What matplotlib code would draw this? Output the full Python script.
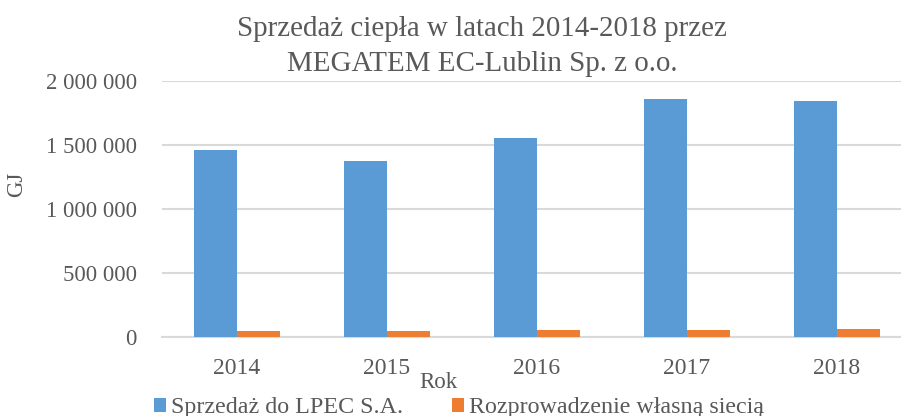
import matplotlib
matplotlib.use("Agg")
import matplotlib.pyplot as plt
import numpy as np
from matplotlib.ticker import FuncFormatter

plt.rcParams['font.family'] = ['Liberation Serif', 'DejaVu Serif']

years = ['2014', '2015', '2016', '2017', '2018']
lpec = [1463000, 1373000, 1552000, 1857000, 1846000]
own_network = [47000, 46000, 52000, 57000, 60000]
series_names = ['Sprzedaż do LPEC S.A.', 'Rozprowadzenie własną siecią']
title_lines = ['Sprzedaż ciepła w latach 2014-2018 przez', 'MEGATEM EC-Lublin Sp. z o.o.']

fig = plt.figure(figsize=(9.01, 4.16), dpi=100)
ax = fig.add_axes([162/901, 1-337/416, 750/901, 256/416])

x = np.arange(len(years))
w = 0.287
b1 = ax.bar(x - w/2, lpec, w, color='#5B9BD5', zorder=3, label=series_names[0])
b2 = ax.bar(x + w/2, own_network, w, color='#ED7D31', zorder=3, label=series_names[1])

ax.set_xlim(-0.5, len(years) - 0.5)
ax.set_ylim(0, 2000000)
ax.set_yticks(np.arange(0, 2000001, 500000))
ax.yaxis.set_major_formatter(FuncFormatter(lambda v, p: f"{int(v):,}".replace(',', ' ')))
ax.set_xticks(x)
ax.set_xticklabels(years)
ax.grid(axis='y', color='#D9D9D9', linewidth=1.5, zorder=0)
for s in ['top', 'right', 'left']:
    ax.spines[s].set_visible(False)
ax.spines['bottom'].set_color('#D9D9D9')
ax.spines['bottom'].set_linewidth(1.5)
ax.tick_params(axis='y', length=0, labelsize=16.4, colors='#595959', pad=18)
ax.tick_params(axis='x', length=0, labelsize=17, colors='#595959', pad=15)

fig.text(482/901, 1-29/416, title_lines[0], ha='center', va='center', fontsize=20.9, color='#595959')
fig.text(482/901, 1-64/416, title_lines[1], ha='center', va='center', fontsize=20.9, color='#595959')
fig.text(17/901, 1-184/416, 'GJ', rotation=90, ha='center', va='center', fontsize=16.5, color='#595959')
fig.text(438/901, 1-383/416, 'Rok', ha='center', va='center', fontsize=16.5, color='#595959')

fig.legend(handles=[b1, b2], labels=series_names, loc='center', ncol=2,
           bbox_to_anchor=(459/901, 1-408/416), frameon=False, fontsize=17.3,
           handlelength=0.5, handleheight=0.5, handletextpad=0.2, columnspacing=2.05,
           labelcolor='#595959', borderpad=0)

fig.savefig('out.png', dpi=100)
